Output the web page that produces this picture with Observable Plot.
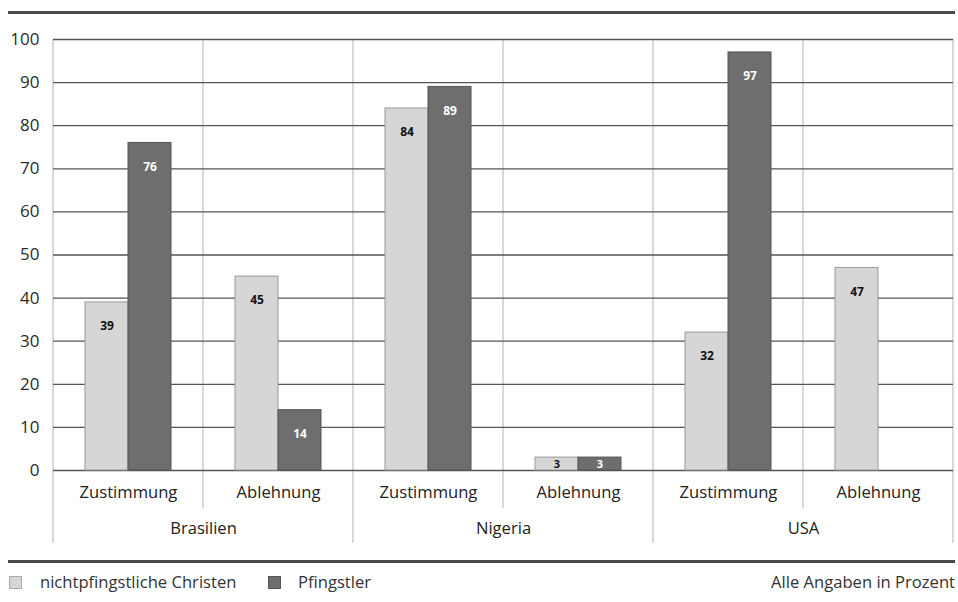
<!DOCTYPE html>
<html><head><meta charset="utf-8">
<script src="https://cdn.jsdelivr.net/npm/d3@7"></script>
<script src="https://cdn.jsdelivr.net/npm/@observablehq/plot@0.6"></script>
<style>
body{margin:0;background:#fff;font-family:"Open Sans",sans-serif;color:#2a2a2a;}
#wrap{position:relative;width:958px;height:602px;overflow:hidden;}
#chart{position:absolute;left:0;top:0;}
.rule{position:absolute;left:8px;width:947px;height:3px;background:#4a4a4a;}
.legend{position:absolute;top:570px;font-size:16.6px;line-height:24px;white-space:nowrap;color:#333;}
.sw{position:absolute;top:6px;width:11px;height:11px;}
</style></head>
<body>
<div id="wrap">
  <div class="rule" style="top:11px"></div>
  <div id="chart"></div>
  <div class="rule" style="top:560px"></div>
  <div class="legend" style="left:0;width:958px;">
    <span class="sw" style="left:9px;background:#d6d6d6;border:1px solid #aaa;"></span>
    <span style="position:absolute;left:40px;" id="lg1"></span>
    <span class="sw" style="left:268px;background:#6e6e6e;border:1px solid #555;"></span>
    <span style="position:absolute;left:298px;" id="lg2"></span>
    <span style="position:absolute;right:3px;" id="note"></span>
  </div>
</div>
<script>
const countries = ["Brasilien", "Nigeria", "USA"];
const categories = ["Zustimmung", "Ablehnung"];
const series = ["nichtpfingstliche Christen", "Pfingstler"];
const nichtpfingstlich = [39, 45, 84, 3, 32, 47];
const pfingstler = [76, 14, 89, 3, 97, null];
const yTicks = [0, 10, 20, 30, 40, 50, 60, 70, 80, 90, 100];
const note = "Alle Angaben in Prozent";

const groups = [];
countries.forEach(c => categories.forEach(k => groups.push({key: c + "|" + k, country: c, category: k})));
const keys = groups.map(g => g.key);
const rows = [];
groups.forEach((g, i) => {
  rows.push({key: g.key, series: series[0], value: nichtpfingstlich[i]});
  rows.push({key: g.key, series: series[1], value: pfingstler[i]});
});
const valid = rows.filter(d => d.value != null);
const big = valid.filter(d => d.value >= 10);
const small = valid.filter(d => d.value < 10);
const isA = d => d.series === series[0];

const chart = Plot.plot({
  width: 958, height: 558,
  marginTop: 39, marginBottom: 88, marginLeft: 52, marginRight: 5,
  style: {fontFamily: "'Open Sans', sans-serif", fontSize: "16px", color: "#2a2a2a", background: "transparent", overflow: "visible"},
  fx: {domain: keys, padding: 0, axis: null},
  x: {domain: series, paddingInner: 0, paddingOuter: 0.72, axis: null},
  y: {domain: [0, 100], axis: null},
  marks: [
    Plot.axisY(yTicks, {anchor: "left", tickSize: 0, tickPadding: 14, fontSize: 17, label: null}),
    Plot.ruleY(yTicks, {stroke: "#555", strokeWidth: 1.3}),
    Plot.barY(valid.filter(isA), {fx: "key", x: "series", y: "value", fill: "#d6d6d6", stroke: "#9a9a9a", strokeWidth: 1}),
    Plot.barY(valid.filter(d => !isA(d)), {fx: "key", x: "series", y: "value", fill: "#6e6e6e", stroke: "#555", strokeWidth: 1}),
    Plot.text(big, {fx: "key", x: "series", y: "value", text: d => String(d.value), dy: 24,
      fill: d => isA(d) ? "#111" : "#fff", fontWeight: "bold", fontSize: 12}),
    Plot.text(small, {fx: "key", x: "series", y: d => d.value / 2, text: d => String(d.value),
      fill: d => isA(d) ? "#111" : "#fff", fontWeight: "bold", fontSize: 11}),
    Plot.text(groups, {fx: "key", text: "category", frameAnchor: "bottom", dy: 27, fontSize: 16.6, fill: "#222"}),
    Plot.text(groups.filter(g => g.category === categories[0]), {fx: "key", text: "country", frameAnchor: "bottom-right", textAnchor: "middle", dy: 63, fontSize: 16.6, fill: "#222"})
  ]
});
document.getElementById("chart").appendChild(chart);

// vertical separators between groups, using the plot's own scales
const fx = chart.scale("fx"), y = chart.scale("y");
const svg = d3.select(chart);
const g = svg.insert("g", ":first-child").attr("stroke", "#c4c4c4").attr("stroke-width", 1.3);
const edges = keys.map(k => fx.apply(k));
edges.push(fx.apply(keys[keys.length - 1]) + fx.bandwidth);
edges.forEach((x, i) => {
  const long = i % 2 === 0;
  g.append("line").attr("x1", x).attr("x2", x)
    .attr("y1", y.apply(100)).attr("y2", y.apply(0) + (long ? 73 : 38));
});

document.getElementById("lg1").textContent = series[0];
document.getElementById("lg2").textContent = series[1];
document.getElementById("note").textContent = note;
</script>
</body></html>
